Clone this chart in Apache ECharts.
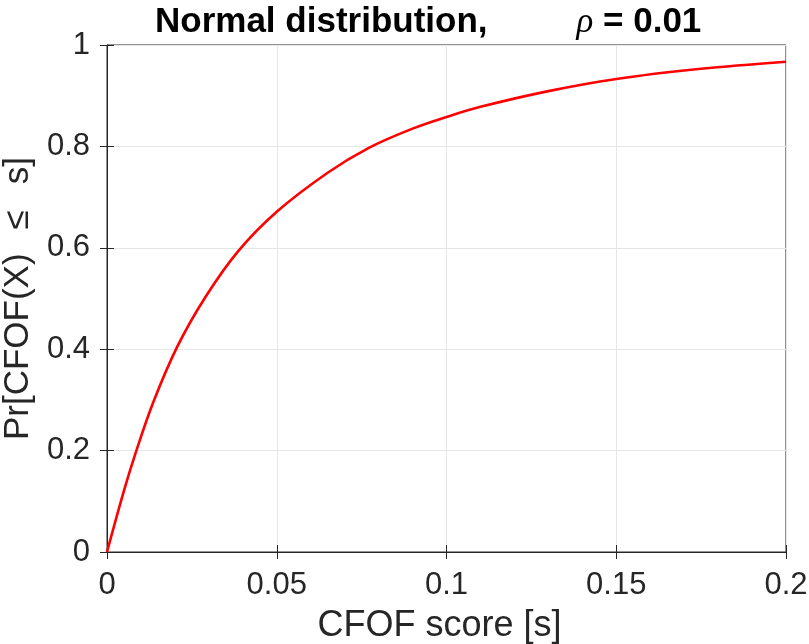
<!DOCTYPE html>
<html>
<head>
<meta charset="utf-8">
<script src="https://cdn.jsdelivr.net/npm/echarts@6/dist/echarts.min.js"></script>
<style>
  html, body { margin: 0; padding: 0; background: #fff; }
  #container { width: 809px; height: 644px; }
</style>
</head>
<body>
<div id="container"></div>
<script>
// CFOF score values
var scores = [0, 0.005, 0.0086, 0.0136, 0.0207, 0.029, 0.0386, 0.05, 0.065,
              0.0774, 0.09, 0.1, 0.11, 0.13, 0.15, 0.175, 0.2];
var probs  = [0, 0.121, 0.199, 0.295, 0.405, 0.503, 0.593, 0.671, 0.748,
              0.798, 0.835, 0.858, 0.878, 0.909, 0.933, 0.953, 0.967];
var xTicks = [0, 0.05, 0.1, 0.15, 0.2];
var yTicks = [0, 0.2, 0.4, 0.6, 0.8, 1];

var FONT = '"Liberation Sans", Arial, Helvetica, sans-serif';
var AXIS_COLOR = '#262626';

var charts;

function getECharts() {
    if (charts != undefined) {
        return charts;
    }
    charts = echarts.init(document.getElementById('container'), null, { renderer: 'canvas' });
    return charts;
}

function fmt(v) {
    return String(+v.toFixed(2));
}

function buildOption() {
    var points = scores.map(function (s, i) { return [s, probs[i]]; });

    var baseAxis = {
        axisLine: { show: true, lineStyle: { color: AXIS_COLOR, width: 1 } },
        axisTick: { show: true, inside: true, length: 7, lineStyle: { color: AXIS_COLOR } },
        minorTick: { show: false }
    };

    return {
        animation: false,
        backgroundColor: '#fff',
        title: {
            text: '{a|Normal distribution,}{gap|}{rho|ρ}{a| = 0.01}',
            left: 150,
            top: 0,
            textStyle: {
                rich: {
                    a: { fontFamily: FONT, fontWeight: 'bold', fontSize: 35, color: '#000' },
                    gap: { width: 89 },
                    rho: { fontFamily: '"Liberation Serif", "DejaVu Serif", serif', fontStyle: 'italic',
                           fontWeight: 'normal', fontSize: 35, color: '#000' }
                }
            }
        },
        grid: {
            left: 107, right: 23, top: 45, bottom: 92,
            outerBoundsMode: 'none',
            containLabel: false,
            show: true, borderColor: AXIS_COLOR, borderWidth: 1
        },
        xAxis: [
            Object.assign({}, baseAxis, {
                type: 'value', min: xTicks[0], max: xTicks[xTicks.length - 1], interval: 0.05,
                name: 'CFOF score [s]', nameLocation: 'middle', nameGap: 56,
                nameTextStyle: { fontFamily: FONT, fontSize: 36, color: AXIS_COLOR,
                                 padding: [0, 14, 0, 0] },
                axisLabel: { fontFamily: FONT, fontSize: 31, color: AXIS_COLOR, margin: 18,
                             formatter: fmt },
                splitLine: { show: true, lineStyle: { color: '#e6e6e6', width: 1 } }
            }),
            Object.assign({}, baseAxis, {
                type: 'value', min: xTicks[0], max: xTicks[xTicks.length - 1], interval: 0.05,
                position: 'top',
                axisLabel: { show: false }, splitLine: { show: false }
            })
        ],
        yAxis: [
            Object.assign({}, baseAxis, {
                type: 'value', min: yTicks[0], max: yTicks[yTicks.length - 1], interval: 0.2,
                name: '{a|Pr[CFOF(X)}{g1|}{a|≤}{g2|}{a|s]}', nameLocation: 'middle', nameGap: 70,
                nameTextStyle: {
                    fontFamily: FONT, fontSize: 35, color: AXIS_COLOR,
                    rich: {
                        a: { fontFamily: FONT, fontSize: 35, color: AXIS_COLOR },
                        g1: { width: 24 },
                        g2: { width: 26 }
                    }
                },
                axisLabel: { fontFamily: FONT, fontSize: 31, color: AXIS_COLOR, margin: 17,
                             formatter: fmt },
                splitLine: { show: true, lineStyle: { color: '#e6e6e6', width: 1 } }
            }),
            Object.assign({}, baseAxis, {
                type: 'value', min: yTicks[0], max: yTicks[yTicks.length - 1], interval: 0.2,
                position: 'right',
                axisLabel: { show: false }, splitLine: { show: false }
            })
        ],
        series: [{
            type: 'line',
            data: points,
            smooth: 0.35,
            showSymbol: false,
            clip: false,
            lineStyle: { color: '#ff0000', width: 2.6 },
            z: 5
        }]
    };
}

getECharts().setOption(buildOption(), true);
</script>
</body>
</html>
